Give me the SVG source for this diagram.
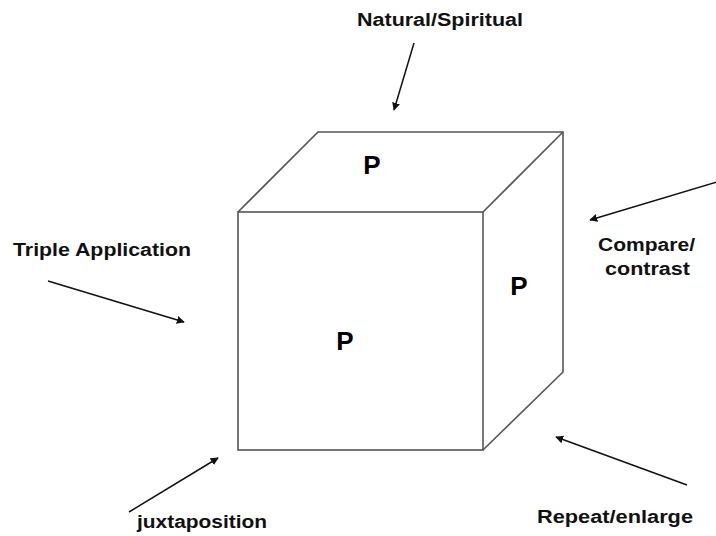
<svg xmlns="http://www.w3.org/2000/svg" width="716" height="536" viewBox="0 0 716 536">
<style>
.edge{stroke:#555;stroke-width:1.6;fill:none;stroke-linejoin:miter}
.arr{stroke:#111;stroke-width:1.5;fill:none;marker-end:url(#ah)}
.lbl{font-family:"Liberation Sans",Arial,sans-serif;font-weight:bold;font-size:18px;fill:#111}
.p{font-family:"Liberation Sans",Arial,sans-serif;font-weight:bold;font-size:26px;fill:#000;text-anchor:middle}
</style>
<defs>
<marker id="ah" viewBox="0 0 10 10" refX="9" refY="5" markerWidth="8" markerHeight="8" markerUnits="userSpaceOnUse" orient="auto">
<path d="M0,0 L10,5 L0,10 z" fill="#111"/>
</marker>
</defs>
<rect width="716" height="536" fill="#fff"/>
<g id="cube">
<path class="edge" d="M238,212 L318,132 L563,132 L563,372 L483,450"/>
<path class="edge" d="M483,212 L563,132"/>
<rect class="edge" x="238" y="212" width="245" height="238"/>
<text class="p" x="372" y="174">P</text>
<text class="p" x="519" y="295">P</text>
<text class="p" x="345" y="350">P</text>
</g>
<g id="connectors">
<line class="arr" x1="414" y1="43" x2="394" y2="110"/>
<line class="arr" x1="717" y1="182" x2="590" y2="220"/>
<line class="arr" x1="48" y1="281" x2="184" y2="322"/>
<line class="arr" x1="129" y1="512" x2="218" y2="458"/>
<line class="arr" x1="687" y1="485" x2="556" y2="437"/>
</g>
<g id="label-natural"><text class="lbl" x="357" y="26" textLength="166" lengthAdjust="spacingAndGlyphs">Natural/Spiritual</text></g>
<g id="label-compare"><text class="lbl" x="598" y="251" textLength="97" lengthAdjust="spacingAndGlyphs">Compare/</text><text class="lbl" x="605" y="275" textLength="85" lengthAdjust="spacingAndGlyphs">contrast</text></g>
<g id="label-triple"><text class="lbl" x="13" y="256" textLength="178" lengthAdjust="spacingAndGlyphs">Triple Application</text></g>
<g id="label-juxta"><text class="lbl" x="137" y="528" textLength="130" lengthAdjust="spacingAndGlyphs">juxtaposition</text></g>
<g id="label-repeat"><text class="lbl" x="537" y="523" textLength="156" lengthAdjust="spacingAndGlyphs">Repeat/enlarge</text></g>
</svg>
